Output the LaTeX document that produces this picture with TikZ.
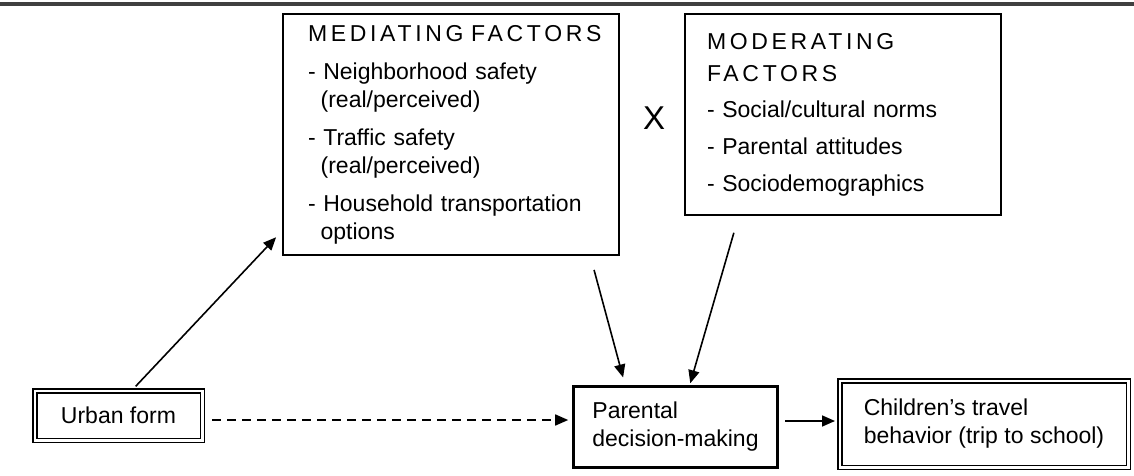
\documentclass[tikz,border=0pt]{standalone}
\usepackage{fontspec}
\setmainfont{Liberation Sans}
\newfontfamily\capsfont[LetterSpace=16]{Liberation Sans}
\usetikzlibrary{arrows.meta}

\begin{document}
\begin{tikzpicture}[x=1pt,y=-1pt,->,>={Triangle[length=13pt,width=11pt]},
            line width=1.6pt,font=\fontsize{23}{28}\selectfont,
            factor box/.style={draw,line width=2.8pt,align=left,inner sep=0pt},
            plain box/.style={draw,line width=2.6pt,align=left},
            double box/.style={draw,double,line width=1.5pt,double distance=2.5pt,align=left}]

        \useasboundingbox (0,0) rectangle (1134,476);
        \draw[-,line width=3.5pt,black!75] (0,4) -- (1134,4);

        % Define vertices
        \node[factor box,minimum width=336pt,minimum height=241pt,text width=286pt] (mediating) at (451,134.5)
            {\mbox{\capsfont MEDIATING FACTORS}\\[10pt]
             - Neighborhood safety\\
             \hspace*{0.55em}(real/perceived)\\[10pt]
             - Traffic safety\\
             \hspace*{0.55em}(real/perceived)\\[10pt]
             - Household transportation\\
             \hspace*{0.55em}options};
        \node[factor box,minimum width=316pt,minimum height=201pt,text width=272pt] (moderating) at (843,114.5)
            {\mbox{\capsfont MODERATING}\\[4pt]
             \mbox{\capsfont FACTORS}\\[8pt]
             - Social/cultural norms\\[9pt]
             - Parental attitudes\\[9pt]
             - Sociodemographics};
        \node[font=\fontsize{33}{33}\selectfont] (times) at (654,118) {X};
        \node[double box,minimum width=167.5pt,minimum height=49.5pt] (urban) at (118.5,415.5) {Urban form};
        \node[plain box,minimum width=204pt,minimum height=81pt] (parental) at (675.5,427) {Parental\\decision-making};
        \node[double box,minimum width=288.5pt,minimum height=86.5pt] (children) at (984,424)
            {Children's travel\\behavior (trip to school)};

        % Draw edges
        \path
            ([xshift=13.7pt]urban.north) edge[shorten <=5pt,shorten >=8pt] ([yshift=25pt]mediating.south west)
            ([xshift=-30pt]mediating.south east) edge[shorten <=14pt,shorten >=8pt] ([xshift=53pt]parental.north west)
            ([xshift=55pt]moderating.south west) edge[shorten <=17pt,shorten >=2pt] ([xshift=117.5pt]parental.north west)
            ([yshift=-4.5pt]urban.east) edge[dash pattern=on 9pt off 6pt,shorten <=9pt,shorten >=4pt] ([yshift=7pt]parental.west)
            ([yshift=6pt]parental.east) edge[shorten <=6.5pt,shorten >=4pt] ([yshift=3pt]children.west);

        \end{tikzpicture}
\end{document}
